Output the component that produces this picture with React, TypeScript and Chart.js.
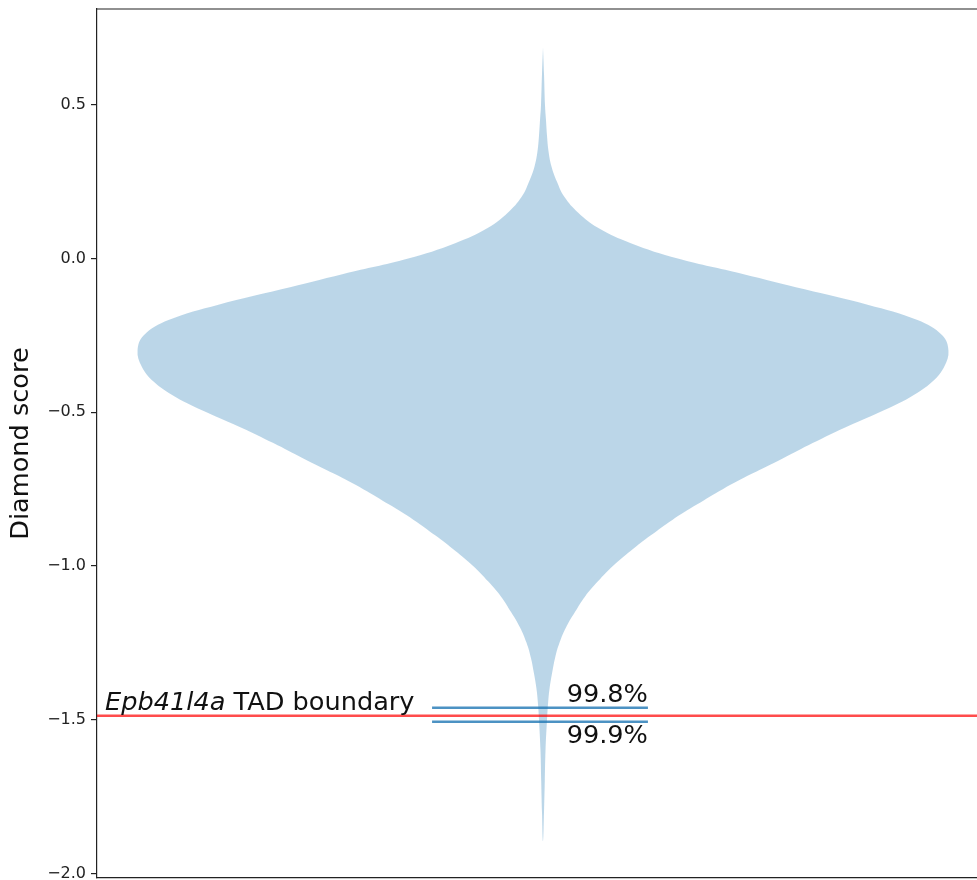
import React, { useEffect, useRef } from "react";
import { Chart, registerables } from "chart.js";

Chart.register(...registerables);

// Violin profile: score (y) and relative density (max = 1)
const VIOLIN_Y = [
  0.687, 0.6, 0.5, 0.45, 0.4, 0.35, 0.3, 0.25, 0.2, 0.15,
  0.1, 0.05, 0.0, -0.05, -0.1, -0.15, -0.2, -0.25, -0.3, -0.35,
  -0.4, -0.45, -0.5, -0.55, -0.6, -0.65, -0.7, -0.75, -0.8, -0.85,
  -0.9, -0.95, -1.0, -1.05, -1.1, -1.15, -1.2, -1.25, -1.3, -1.35,
  -1.4, -1.45, -1.5, -1.6, -1.7, -1.8, -1.895,
];
const VIOLIN_DENSITY = [
  0, 0.0025, 0.0049, 0.0074, 0.0099, 0.0135, 0.0209, 0.0345, 0.0530, 0.0862,
  0.1355, 0.2167, 0.3325, 0.4926, 0.6453, 0.8005, 0.9236, 0.9852, 1.0, 0.9901,
  0.9606, 0.9064, 0.8300, 0.7438, 0.6650, 0.5911, 0.5148, 0.4433, 0.3793, 0.3190,
  0.266, 0.2167, 0.1724, 0.1355, 0.1034, 0.0788, 0.0567, 0.0406, 0.0296, 0.0222,
  0.016, 0.0123, 0.0099, 0.0062, 0.0044, 0.0025, 0,
];

const Y_TICKS = [0.5, 0.0, -0.5, -1.0, -1.5, -2.0];
const Y_MIN = -2.015;
const Y_MAX = 0.812;

const TAD_SCORE = -1.487;
const GENE = "Epb41l4a";
const TAD_TEXT = " TAD boundary";
const PERCENTILE_LABELS = ["99.8%", "99.9%"];
const PERCENTILE_VALUES = [-1.461, -1.507];
const PERCENTILE_X = [0.9316, 1.0647];

const VIOLIN_POS = 1;
const VIOLIN_HALF_WIDTH = 0.25;
const X_MIN = 0.725;
const X_MAX = 1.2676;
const TEXT_X = 0.73;

const FONT = '"DejaVu Sans", "Liberation Sans", sans-serif';

export default function App() {
  const canvasRef = useRef<HTMLCanvasElement | null>(null);

  useEffect(() => {
    const canvas = canvasRef.current;
    if (!canvas) return;

    const left = VIOLIN_Y.map((y, i) => ({ x: VIOLIN_POS - VIOLIN_HALF_WIDTH * VIOLIN_DENSITY[i], y }));
    const right = VIOLIN_Y.map((y, i) => ({ x: VIOLIN_POS + VIOLIN_HALF_WIDTH * VIOLIN_DENSITY[i], y })).reverse();
    const violin = [...left, ...right.slice(1)];

    const annot = {
      id: "annot",
      afterDatasetsDraw(chart: any) {
        const { ctx, scales } = chart;
        const xs = scales.x;
        const ys = scales.y;
        ctx.save();
        ctx.fillStyle = "#111";
        const fs = 25.6;
        ctx.textBaseline = "bottom";
        ctx.textAlign = "left";
        let px = xs.getPixelForValue(TEXT_X);
        const py = ys.getPixelForValue(TAD_SCORE);
        ctx.font = `italic ${fs}px ${FONT}`;
        ctx.fillText(GENE, px, py);
        px += ctx.measureText(GENE).width;
        ctx.font = `${fs}px ${FONT}`;
        ctx.fillText(TAD_TEXT, px, py);

        ctx.textAlign = "right";
        const rx = xs.getPixelForValue(PERCENTILE_X[1]);
        ctx.textBaseline = "bottom";
        ctx.fillText(PERCENTILE_LABELS[0], rx, ys.getPixelForValue(PERCENTILE_VALUES[0]));
        ctx.textBaseline = "top";
        ctx.fillText(PERCENTILE_LABELS[1], rx, ys.getPixelForValue(PERCENTILE_VALUES[1]) + 2);

        // top spine
        const a = chart.chartArea;
        ctx.strokeStyle = "#222";
        ctx.lineWidth = 1.2;
        ctx.beginPath();
        ctx.moveTo(a.left, a.top);
        ctx.lineTo(a.right, a.top);
        ctx.stroke();
        ctx.restore();
      },
    };

    const chart = new Chart(canvas, {
      type: "line",
      data: {
        datasets: [
          {
            data: [
              { x: PERCENTILE_X[0], y: PERCENTILE_VALUES[0] },
              { x: PERCENTILE_X[1], y: PERCENTILE_VALUES[0] },
            ],
            borderColor: "rgba(31,119,180,0.8)",
            borderWidth: 2.5,
            pointRadius: 0,
            fill: false,
          },
          {
            data: [
              { x: PERCENTILE_X[0], y: PERCENTILE_VALUES[1] },
              { x: PERCENTILE_X[1], y: PERCENTILE_VALUES[1] },
            ],
            borderColor: "rgba(31,119,180,0.8)",
            borderWidth: 2.5,
            pointRadius: 0,
            fill: false,
          },
          {
            data: [
              { x: X_MIN, y: TAD_SCORE },
              { x: X_MAX, y: TAD_SCORE },
            ],
            borderColor: "rgba(255,0,0,0.7)",
            borderWidth: 2.5,
            pointRadius: 0,
            fill: false,
          },
          {
            data: violin,
            borderWidth: 0,
            borderColor: "rgba(0,0,0,0)",
            backgroundColor: "rgba(31,119,180,0.3)",
            pointRadius: 0,
            tension: 0.4,
            fill: "shape",
          } as any,
        ],
      },
      plugins: [annot],
      options: {
        animation: false,
        responsive: false,
        devicePixelRatio: 1,
        layout: { padding: { left: 0, right: 0, top: 9, bottom: 2 } },
        plugins: {
          legend: { display: false },
          tooltip: { enabled: false },
        },
        scales: {
          x: {
            type: "linear",
            min: X_MIN,
            max: X_MAX,
            ticks: { display: false },
            grid: { display: false, drawTicks: false },
            border: { display: true, color: "#222", width: 1.2 },
          },
          y: {
            type: "linear",
            min: Y_MIN,
            max: Y_MAX,
            afterBuildTicks: (scale: any) => {
              scale.ticks = Y_TICKS.map((v) => ({ value: v }));
            },
            afterFit: (scale: any) => {
              scale.width = 97;
              scale.paddingTop = 0;
              scale.paddingBottom = 0;
            },
            ticks: {
              color: "#222",
              font: { family: FONT, size: 16 },
              padding: 5,
              callback: (v: any) => {
                const n = Number(v);
                const s = Math.abs(n).toFixed(1);
                return n < 0 ? "\u2212" + s : s;
              },
            },
            grid: {
              display: true,
              drawOnChartArea: false,
              drawTicks: true,
              tickLength: 6,
              color: "#222",
              lineWidth: 1.2,
            },
            border: { display: true, color: "#222", width: 1.2 },
            title: {
              display: true,
              text: "Diamond score",
              color: "#111",
              font: { family: FONT, size: 25.6 },
              padding: { top: 6, bottom: 0 },
            },
          },
        },
      },
    });

    return () => chart.destroy();
  }, []);

  return (
    <div style={{ position: "absolute", left: 0, top: 0, width: 977, height: 880, overflow: "hidden", background: "#fff" }}>
      <canvas ref={canvasRef} width={977} height={880} style={{ display: "block", width: 977, height: 880 }} />
    </div>
  );
}
